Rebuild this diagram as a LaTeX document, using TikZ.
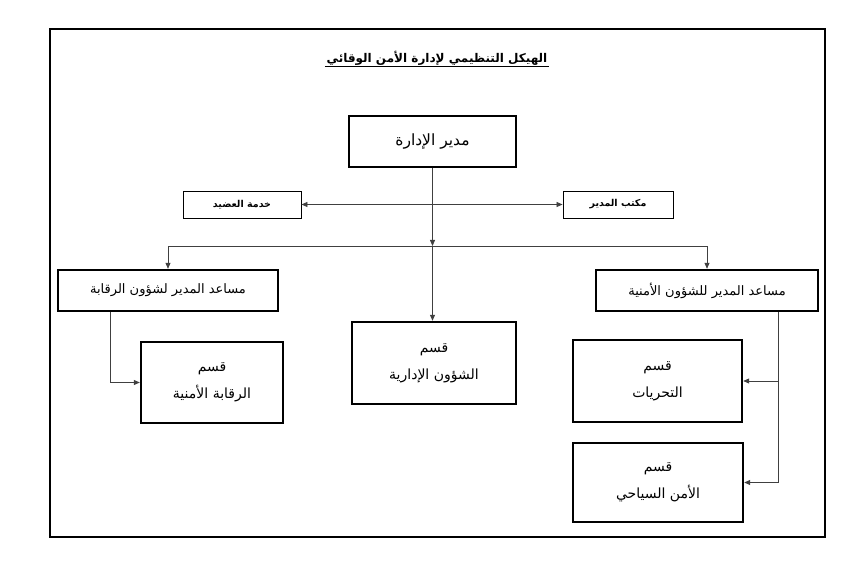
\documentclass[tikz,border=0pt]{standalone}
\usepackage{fontspec}
\newfontfamily\arabicfont[Script=Arabic]{DejaVu Sans}
\TeXXeTstate=1
\usetikzlibrary{arrows.meta,positioning}
\newcommand{\artxt}[1]{{\arabicfont\beginR #1\endR}}

\begin{document}
\begin{tikzpicture}[
    x=1pt, y=-1pt,
    box/.style={rectangle, draw=black, line width=2.4pt, inner sep=0pt, align=center, font=\fontsize{14}{27}\selectfont},
    sidebox/.style={rectangle, draw=black, line width=0.9pt, inner sep=0pt, minimum height=27pt, font=\fontsize{9.5}{11}\selectfont\bfseries},
    link/.style={draw=black!75, line width=0.8pt},
    arrow/.style={link, -{Triangle[length=6pt, width=5pt]}},
    twoarrow/.style={link, {Triangle[length=6pt, width=5pt]}-{Triangle[length=6pt, width=5pt]}}
]
\useasboundingbox (0,0) rectangle (857,564);

% Frame
\draw[line width=2.4pt] (50,29) rectangle (825,537);

% Title
\node[font=\fontsize{12}{15}\selectfont\bfseries, inner sep=1.5pt] (title) at (437,58) {\artxt{الهيكل التنظيمي لإدارة الأمن الوقائي}};
\draw[line width=1.2pt] (title.south west) -- (title.south east);

% Director
\node[box, minimum width=167pt, minimum height=51pt, font=\fontsize{15.5}{18}\selectfont] (director) at (432.5,141.5) {\artxt{مدير الإدارة}};

% Side units
\node[sidebox, minimum width=118pt] (aide) at (242,204.5) {\artxt{خدمة العضيد}};
\node[sidebox, minimum width=110pt] (office) at (618,204.5) {\artxt{مكتب المدير}};

% Assistants
\node[box, minimum width=220pt, minimum height=41pt, font=\fontsize{13}{16}\selectfont] (asstctrl) at (168,290.5) {\artxt{مساعد المدير لشؤون الرقابة}};
\node[box, minimum width=222pt, minimum height=41pt, font=\fontsize{13}{16}\selectfont] (asstsec) at (707,290.5) {\artxt{مساعد المدير للشؤون الأمنية}};

% Departments
\node[box, minimum width=164pt, minimum height=82pt] (admin) at (434,363) {\artxt{قسم}\\\artxt{الشؤون الإدارية}};
\node[box, minimum width=142pt, minimum height=81pt] (ctrldept) at (212,382.5) {\artxt{قسم}\\\artxt{الرقابة الأمنية}};
\node[box, minimum width=169pt, minimum height=82pt] (invdept) at (657.5,381) {\artxt{قسم}\\\artxt{التحريات}};
\node[box, minimum width=170pt, minimum height=79pt] (tourdept) at (658,482.5) {\artxt{قسم}\\\artxt{الأمن السياحي}};

% Junction
\coordinate (split) at (director.south |- 0,246);

% Arrows
\draw[arrow] (director) -- (split);
\draw[arrow] (split) -- (split |- admin.north);
\draw[arrow] (split) -| (asstctrl.north);
\draw[arrow] (split) -| (asstsec.north);
\draw[twoarrow] (aide) -- (office);
\draw[arrow] ([xshift=-58pt]asstctrl.south) |- (ctrldept.west);
\draw[arrow] ([xshift=71pt]asstsec.south) |- (invdept.east);
\draw[arrow] ([xshift=71pt]asstsec.south) |- (tourdept.east);

\end{tikzpicture}
\end{document}
